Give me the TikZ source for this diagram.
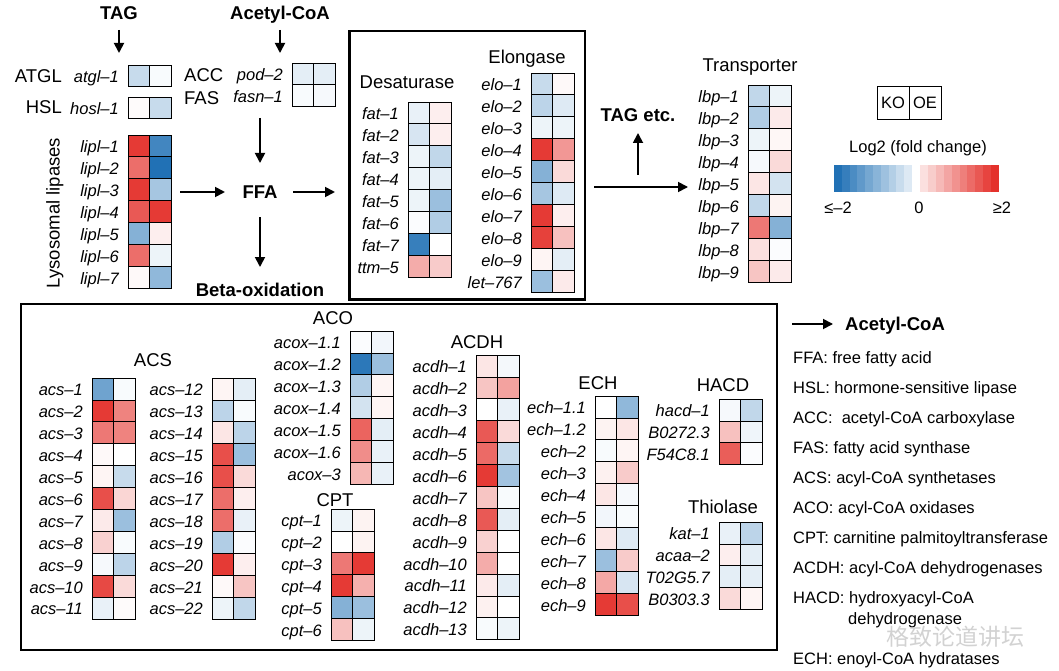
\documentclass[tikz,border=0pt]{standalone}
\usepackage{fontspec}
\setmainfont{Liberation Sans}
\newfontfamily\cjkfont{Noto Sans CJK SC}
\usetikzlibrary{positioning,arrows.meta}

\definecolor{up}{RGB}{228,48,42}
\definecolor{dn}{RGB}{33,113,181}

% one block of KO/OE cells: name, left x, top y, rows gene/ko/oe
\newcommand{\heatmap}[4]{%
  \foreach \g/\ko/\oe [count=\i from 0] in {#4} {
    \node[cell, fill=\ko] (#1-k\i) at ({#2+10.9},{#3+10.95+21.9*\i}) {};
    \node[cell, fill=\oe, right=0pt of #1-k\i] (#1-o\i) {};
    \node[gene, left=9pt of #1-k\i] (#1-g\i) {\g};
  }}

\begin{document}
\begin{tikzpicture}[x=1pt,y=-1pt,
		cell/.style={draw=black, line width=0.8pt, minimum width=21.8pt, minimum height=21.9pt, inner sep=0pt, outer sep=0pt},
		gene/.style={font=\fontsize{16.5}{19}\selectfont\itshape, inner sep=0pt, text height=14pt, text depth=0pt},
		grp/.style={font=\fontsize{18.5}{22}\selectfont, inner sep=0pt, text height=13.3pt, text depth=0pt},
		key/.style={font=\fontsize{18.5}{22}\selectfont\bfseries, inner sep=0pt, text height=13.3pt, text depth=0pt},
		note/.style={font=\fontsize{16.5}{19}\selectfont, anchor=west, inner sep=0pt, text height=12pt, text depth=0pt},
		panel/.style={draw=black, line width=2.4pt},
		arr/.style={line width=1.8pt, -{Triangle[length=10pt,width=10pt]}}
		]
		\useasboundingbox (0,0) rectangle (1059,671);

		% lipolysis and synthesis
		\node[key] (tag) at (119,13) {TAG};
		\node[key] (acoa) at (280,13) {Acetyl-CoA};
		\node[grp, anchor=east] (atgl) at (62,76) {ATGL};
		\node[grp, anchor=east] (hsl) at (62,107) {HSL};
		\node[grp, anchor=west] (acc) at (184,75) {ACC};
		\node[grp, anchor=west] (fas) at (184,98) {FAS};
		\node[grp, rotate=90] (lyso) at (53,213) {Lysosomal lipases};
		\heatmap{atgl}{128}{65}{atgl–1/dn!25/dn!3}
		\heatmap{hosl}{128}{97}{hosl–1/up!2/dn!25}
		\heatmap{lipl}{128}{135}{lipl–1/up!95/dn!85,
			lipl–2/up!70/dn!100,
			lipl–3/up!95/dn!40,
			lipl–4/up!80/up!95,
			lipl–5/dn!55/up!8,
			lipl–6/up!70/dn!8,
			lipl–7/up!3/dn!50}
		\heatmap{acc}{292}{63}{pod–2/dn!12/dn!12,
			fasn–1/dn!3/dn!4}

		\node[key] (ffa) at (260,192) {FFA};
		\node[key] (beta) at (260,290) {Beta-oxidation};
		\draw[arr] (tag) ++(0,17) -- ++(0,23);
		\draw[arr] (acoa) ++(0,17) -- ++(0,23);
		\draw[arr] (ffa) ++(0,-74) -- ++(0,45);
		\draw[arr] (ffa) ++(-80,0) -- ++(45,0);
		\draw[arr] (ffa) ++(33,0) -- ++(42,0);
		\draw[arr] (ffa) ++(0,25) -- ++(0,50);

		% desaturase and elongase
		\draw[panel] (349.5,31) rectangle (585,299.5);
		\node[grp] (desat) at (407,82) {Desaturase};
		\node[grp] (elong) at (527,57) {Elongase};
		\heatmap{fat}{408}{102}{fat–1/dn!10/up!8,
			fat–2/dn!18/up!8,
			fat–3/dn!8/dn!28,
			fat–4/dn!8/dn!12,
			fat–5/dn!8/dn!45,
			fat–6/dn!2/dn!35,
			fat–7/dn!90/white,
			ttm–5/up!40/up!25}
		\heatmap{elo}{531}{73}{elo–1/dn!25/up!3,
			elo–2/dn!30/dn!15,
			elo–3/dn!8/dn!8,
			elo–4/up!95/up!50,
			elo–5/dn!55/up!18,
			elo–6/dn!40/dn!15,
			elo–7/up!95/up!8,
			elo–8/up!92/up!30,
			elo–9/up!5/dn!12,
			let–767/dn!45/up!10}

		% transporter
		\node[key] (tagetc) at (638,115) {TAG etc.};
		\draw[arr] (tagetc) ++(-44,72) -- ++(94,0);
		\draw[arr] (tagetc) ++(0,60) -- ++(0,-42);
		\node[grp] (trans) at (750,65) {Transporter};
		\heatmap{lbp}{748}{85}{lbp–1/dn!28/dn!8,
			lbp–2/dn!35/up!10,
			lbp–3/dn!8/up!4,
			lbp–4/dn!4/up!18,
			lbp–5/up!12/dn!20,
			lbp–6/dn!28/up!6,
			lbp–7/up!65/dn!55,
			lbp–8/up!15/dn!2,
			lbp–9/up!28/up!10}

		% colour key
		\node[draw, line width=0.8pt, minimum width=32pt, minimum height=33pt, inner sep=0pt, outer sep=0pt,
			font=\fontsize{16.5}{19}\selectfont] (ko) at (893,102.5) {KO};
		\node[draw, line width=0.8pt, minimum width=32pt, minimum height=33pt, inner sep=0pt, outer sep=0pt,
			font=\fontsize{16.5}{19}\selectfont, right=0pt of ko] (oe) {OE};
		\node[note, anchor=center] (log2) at (918,147) {Log2 (fold change)};
		\foreach \k [evaluate=\k as \s using 100-9.4*\k] in {0,...,9}
			\fill[dn!\s] (834+7.8*\k,165) rectangle ++(7.9,27);
		\foreach \k [evaluate=\k as \s using 15+9.4*\k] in {0,...,9}
			\fill[up!\s] (920+7.9*\k,165) rectangle ++(8,27);
		\node[note, anchor=center] (lo) at (838,207) {≤–2};
		\node[note, anchor=center] (mid) at (919,207) {0};
		\node[note, anchor=center] (hi) at (1002,207) {≥2};

		% beta-oxidation
		\draw[panel] (21,304) rectangle (777,650);
		\node[grp] (acs) at (153,360) {ACS};
		\heatmap{acsa}{92}{378}{acs–1/dn!65/dn!3,
			acs–2/up!95/up!60,
			acs–3/up!65/up!60,
			acs–4/up!3/white,
			acs–5/up!5/dn!25,
			acs–6/up!85/up!20,
			acs–7/up!10/dn!45,
			acs–8/up!22/dn!3,
			acs–9/dn!4/dn!30,
			acs–10/up!88/up!18,
			acs–11/dn!10/up!2}
		\heatmap{acsb}{212}{378}{acs–12/up!5/dn!12,
			acs–13/dn!30/dn!3,
			acs–14/up!12/dn!30,
			acs–15/up!85/dn!45,
			acs–16/up!85/up!18,
			acs–17/up!70/up!8,
			acs–18/up!70/dn!10,
			acs–19/dn!35/dn!2,
			acs–20/up!95/up!8,
			acs–21/up!3/up!28,
			acs–22/dn!8/dn!28}
		\node[grp] (aco) at (333,318) {ACO};
		\heatmap{acox}{350}{331}{acox–1.1/dn!2/dn!6,
			acox–1.2/dn!95/dn!45,
			acox–1.3/dn!35/up!5,
			acox–1.4/dn!20/up!5,
			acox–1.5/up!75/dn!12,
			acox–1.6/up!55/dn!10,
			acox–3/up!35/dn!10}
		\node[grp] (cptt) at (335,500) {CPT};
		\heatmap{cpt}{331}{509}{cpt–1/dn!8/up!6,
			cpt–2/white/up!6,
			cpt–3/up!65/up!95,
			cpt–4/up!95/up!38,
			cpt–5/dn!55/dn!45,
			cpt–6/up!30/dn!8}
		\node[grp] (acdht) at (477,342) {ACDH};
		\heatmap{acdh}{476}{355}{acdh–1/up!12/dn!5,
			acdh–2/up!28/up!45,
			acdh–3/white/dn!10,
			acdh–4/up!80/up!18,
			acdh–5/up!72/dn!25,
			acdh–6/up!95/dn!42,
			acdh–7/up!28/dn!3,
			acdh–8/up!80/dn!12,
			acdh–9/up!22/white,
			acdh–10/up!40/white,
			acdh–11/up!10/dn!12,
			acdh–12/up!7/white,
			acdh–13/dn!3/dn!8}
		\node[grp] (echt) at (598,383) {ECH};
		\heatmap{ech}{595}{396}{ech–1.1/white/dn!50,
			ech–1.2/up!6/up!12,
			ech–2/dn!3/up!5,
			ech–3/up!7/up!25,
			ech–4/up!12/dn!4,
			ech–5/dn!6/dn!3,
			ech–6/up!12/dn!15,
			ech–7/dn!45/up!25,
			ech–8/up!42/dn!18,
			ech–9/up!95/up!85}
		\node[grp] (hacdt) at (723,385) {HACD};
		\heatmap{hacd}{719}{399}{hacd–1/dn!4/dn!28,
			B0272.3/up!30/dn!7,
			F54C8.1/up!78/dn!2}
		\node[grp] (thio) at (723,507) {Thiolase};
		\heatmap{kat}{719}{522}{kat–1/dn!10/dn!30,
			acaa–2/up!8/dn!12,
			T02G5.7/dn!12/dn!12,
			B0303.3/up!18/up!5}

		% abbreviations
		\node[key, anchor=west] (lgacoa) at (845,324) {Acetyl-CoA};
		\draw[arr] (lgacoa.west) ++(-53,0) -- ++(41,0);
		\foreach \t [count=\i from 0] in {FFA: free fatty acid,
			HSL: hormone-sensitive lipase,
			ACC:~ acetyl-CoA carboxylase,
			FAS: fatty acid synthase,
			ACS: acyl-CoA synthetases,
			ACO: acyl-CoA oxidases,
			CPT: carnitine palmitoyltransferase,
			ACDH: acyl-CoA dehydrogenases,
			HACD: hydroxyacyl-CoA}
			\node[note] (ab\i) at (793,357+30.1*\i) {\t};
		\node[note] (ab9) at (848,618) {dehydrogenase};
		\node[note] (ab10) at (793,658) {ECH: enoyl-CoA hydratases};
		\node[text=gray!50, opacity=0.7, inner sep=0pt, font=\cjkfont\fontsize{23}{26}\selectfont] (wm) at (955,637) {格致论道讲坛};
		\end{tikzpicture}
\end{document}
